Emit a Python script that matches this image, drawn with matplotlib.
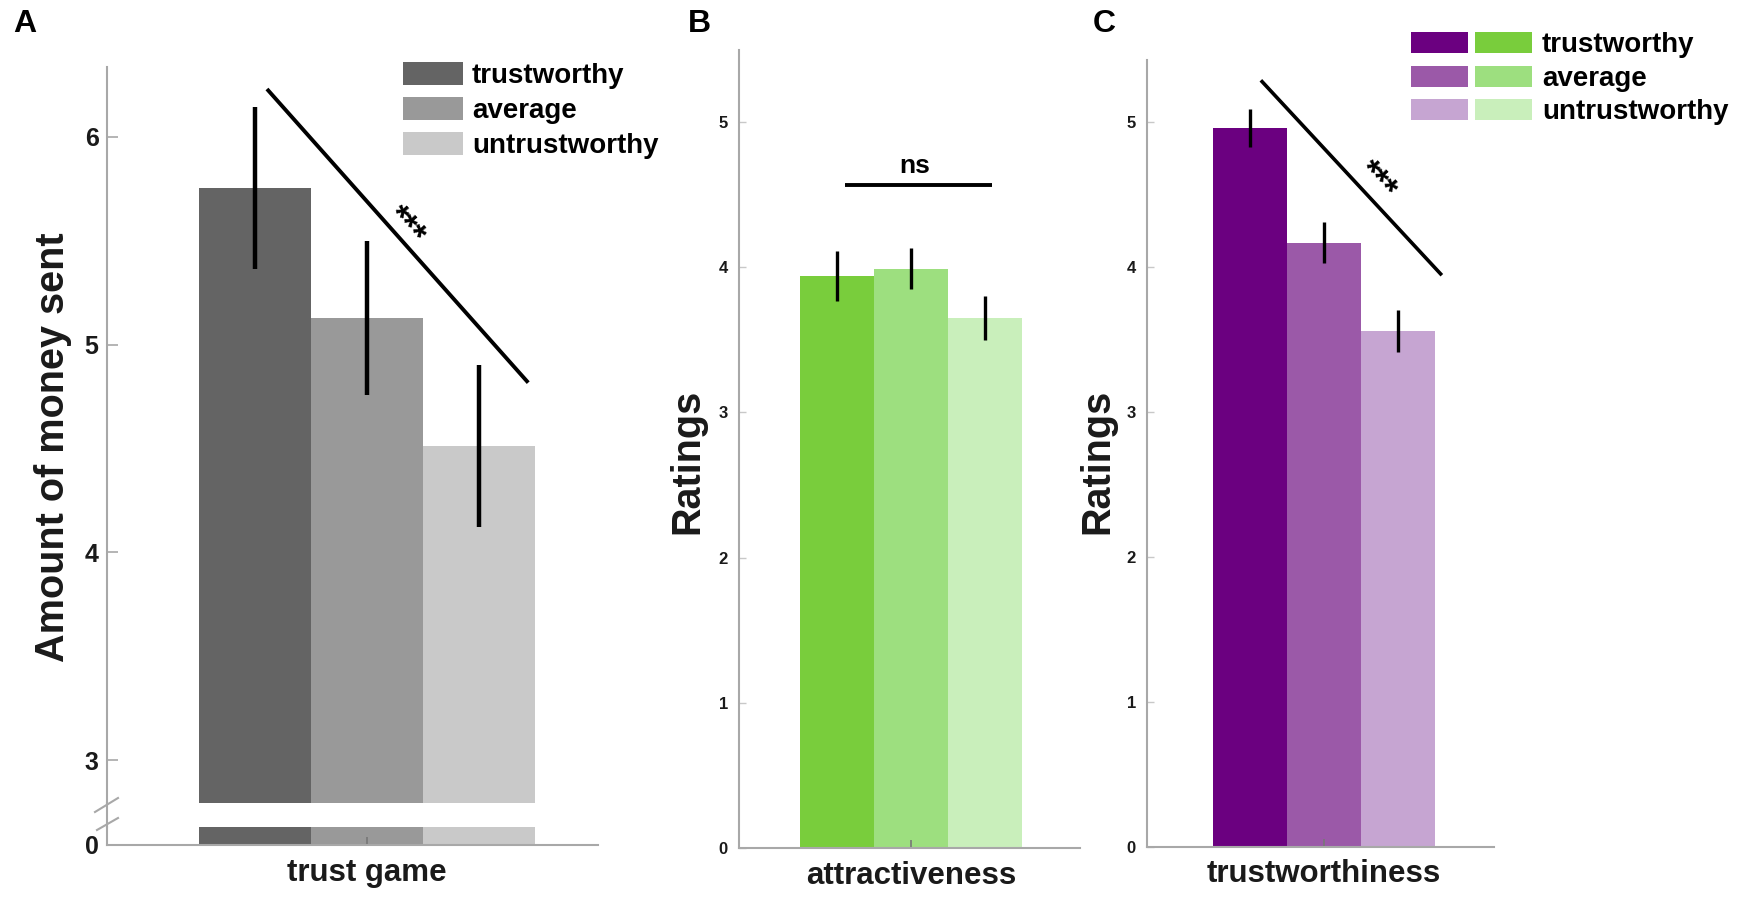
import matplotlib
matplotlib.use('Agg')
import matplotlib.pyplot as plt
from matplotlib.patches import Patch
from matplotlib.lines import Line2D
from matplotlib.legend_handler import HandlerTuple

plt.rcParams['font.family'] = ['Liberation Sans', 'DejaVu Sans']
plt.rcParams['font.weight'] = 'bold'

# ---------------- data ----------------
conditions = ['trustworthy', 'average', 'untrustworthy']
positions = [-1, 0, 1]

trust_game_label = 'trust game'
trust_game_means = [5.755, 5.13, 4.51]
trust_game_sem = [0.39, 0.37, 0.39]

attract_label = 'attractiveness'
attract_means = [3.94, 3.99, 3.65]
attract_sem = [0.17, 0.14, 0.15]

trustw_label = 'trustworthiness'
trustw_means = [4.96, 4.17, 3.56]
trustw_sem = [0.13, 0.14, 0.145]

grey_colors = ['#646464', '#999999', '#c9c9c9']
green_colors = ['#79cd3c', '#9ddf7f', '#c9efbb']
purple_colors = ['#6b0080', '#9b59a8', '#c6a5d2']

A_ticks_top = [3, 4, 5, 6]
A_ticks_bottom = [0]
BC_ticks = [0, 1, 2, 3, 4, 5]

# ---------------- layout helpers ----------------
W, H = 1747, 898
fig = plt.figure(figsize=(W / 100, H / 100), dpi=100)


def rect(l, t, r, b):
    return [l / W, 1 - b / H, (r - l) / W, (b - t) / H]


SPINE = '#a8a8a8'
TXT = '#1a1a1a'


def style_axes(ax):
    for s in ['top', 'right']:
        ax.spines[s].set_visible(False)
    for s in ['left', 'bottom']:
        ax.spines[s].set_color(SPINE)
        ax.spines[s].set_linewidth(1.5)


# ---------------- Panel A (broken axis) ----------------
axA = fig.add_axes(rect(107, 67, 598, 803))
axA0 = fig.add_axes(rect(107, 827, 598, 845))
for ax in (axA, axA0):
    style_axes(ax)
    ax.bar(positions, trust_game_means, width=1.0, color=grey_colors,
           edgecolor='none')
    ax.set_xlim(-2.32, 2.06)
    ax.tick_params(axis='y', direction='in', length=8, width=1.2,
                   color=SPINE, labelsize=18, pad=6, labelcolor=TXT)
axA.spines['bottom'].set_visible(False)
axA.errorbar(positions, trust_game_means, yerr=trust_game_sem, fmt='none',
             ecolor='black', elinewidth=3.2, capsize=0)
axA.set_ylim(2.793, 6.337)
axA.set_yticks(A_ticks_top)
axA.set_xticks([])
axA0.set_ylim(0, 0.0865)
axA0.set_yticks(A_ticks_bottom)
axA0.set_xticks([0])
axA0.set_xticklabels([trust_game_label])
axA0.tick_params(axis='x', direction='in', length=6, width=1.2, color='#777777',
                 labelsize=22.5, pad=9, labelcolor=TXT)

axA.set_ylabel('Amount of money sent', fontsize=28.5, fontweight='bold',
               va='center', color=TXT)
axA.yaxis.set_label_coords(53 / W, 1 - 447 / H, transform=fig.transFigure)

# spine across the gap + break marks
fig.add_artist(Line2D([107 / W, 107 / W], [1 - 803 / H, 1 - 827 / H],
                      color=SPINE, lw=1.5, transform=fig.transFigure))
fig.add_artist(Line2D([95 / W, 118 / W], [1 - 812 / H, 1 - 798 / H],
                      color=SPINE, lw=1.5, transform=fig.transFigure))
fig.add_artist(Line2D([97 / W, 118 / W], [1 - 830 / H, 1 - 818 / H],
                      color=SPINE, lw=1.5, transform=fig.transFigure))

# significance
axA.plot([-0.893, 1.4375], [6.231, 4.817], color='black', lw=2.8,
         clip_on=False, solid_capstyle='butt')
axA.text(0.34, 5.57, '***', rotation=-48.4, rotation_mode='anchor',
         ha='center', va='center', fontsize=25, color='black')

axA.legend([Patch(facecolor=c, edgecolor='none') for c in grey_colors],
           conditions, loc='upper left',
           bbox_to_anchor=(403 / W, 1 - 62 / H), bbox_transform=fig.transFigure,
           frameon=False, borderpad=0, borderaxespad=0, handlelength=2.16,
           handleheight=0.9, handletextpad=0.32, labelspacing=0.28,
           prop={'size': 20, 'weight': 'bold'})


# ---------------- Panels B, C ----------------
def ratings_panel(r, means, sem, colors, xlabel, ylim, xlim, lx):
    ax = fig.add_axes(rect(*r))
    style_axes(ax)
    ax.bar(positions, means, width=1.0, color=colors, edgecolor='none')
    ax.errorbar(positions, means, yerr=sem, fmt='none', ecolor='black',
                elinewidth=2.4, capsize=0)
    ax.set_ylim(*ylim)
    ax.set_xlim(*xlim)
    ax.set_yticks(BC_ticks)
    ax.set_xticks([0])
    ax.set_xticklabels([xlabel])
    ax.tick_params(axis='y', direction='in', length=5, width=1.0,
                   color='#c8c8c8', labelsize=12, pad=8, labelcolor=TXT)
    ax.tick_params(axis='x', direction='in', length=6, width=1.2,
                   color='#777777', labelsize=22.5, pad=9, labelcolor=TXT)
    ax.set_ylabel('Ratings', fontsize=28.5, fontweight='bold', va='center',
                  color=TXT)
    ax.yaxis.set_label_coords(lx / W, 1 - 461 / H, transform=fig.transFigure)
    return ax


axB = ratings_panel((739, 50, 1080, 848), attract_means, attract_sem,
                    green_colors, attract_label, (0, 5.496), (-2.32, 2.28), 687)
axB.plot([-0.89, 1.095], [4.566, 4.566], color='black', lw=2.8,
         solid_capstyle='butt')
axB.text(0.054, 4.70, 'ns', ha='center', va='center', fontsize=19,
         color='black')

axC = ratings_panel((1147, 60, 1494, 847), trustw_means, trustw_sem,
                    purple_colors, trustw_label, (0, 5.43), (-2.39, 2.30), 1097)
axC.plot([-0.851, 1.595], [5.29, 3.945], color='black', lw=2.6,
         clip_on=False, solid_capstyle='butt')
axC.text(0.72, 4.60, '***', rotation=-47.1, rotation_mode='anchor',
         ha='center', va='center', fontsize=25, color='black')

axC.legend([(Patch(facecolor=p, edgecolor='none'),
             Patch(facecolor=g, edgecolor='none'))
            for p, g in zip(purple_colors, green_colors)],
           conditions, handler_map={tuple: HandlerTuple(ndivide=None, pad=0.25)},
           loc='upper left', bbox_to_anchor=(1411 / W, 1 - 32 / H),
           bbox_transform=fig.transFigure, frameon=False, borderpad=0,
           borderaxespad=0, handlelength=4.35, handleheight=0.8,
           handletextpad=0.36, labelspacing=0.26,
           prop={'size': 20, 'weight': 'bold'})

# ---------------- panel letters ----------------
for letter, x in (('A', 13), ('B', 688), ('C', 1093)):
    fig.text(x / W, 1 - 9 / H, letter, ha='left', va='top', fontsize=23,
             fontweight='bold', color='black')

fig.savefig('out.png', dpi=100, facecolor='white')
